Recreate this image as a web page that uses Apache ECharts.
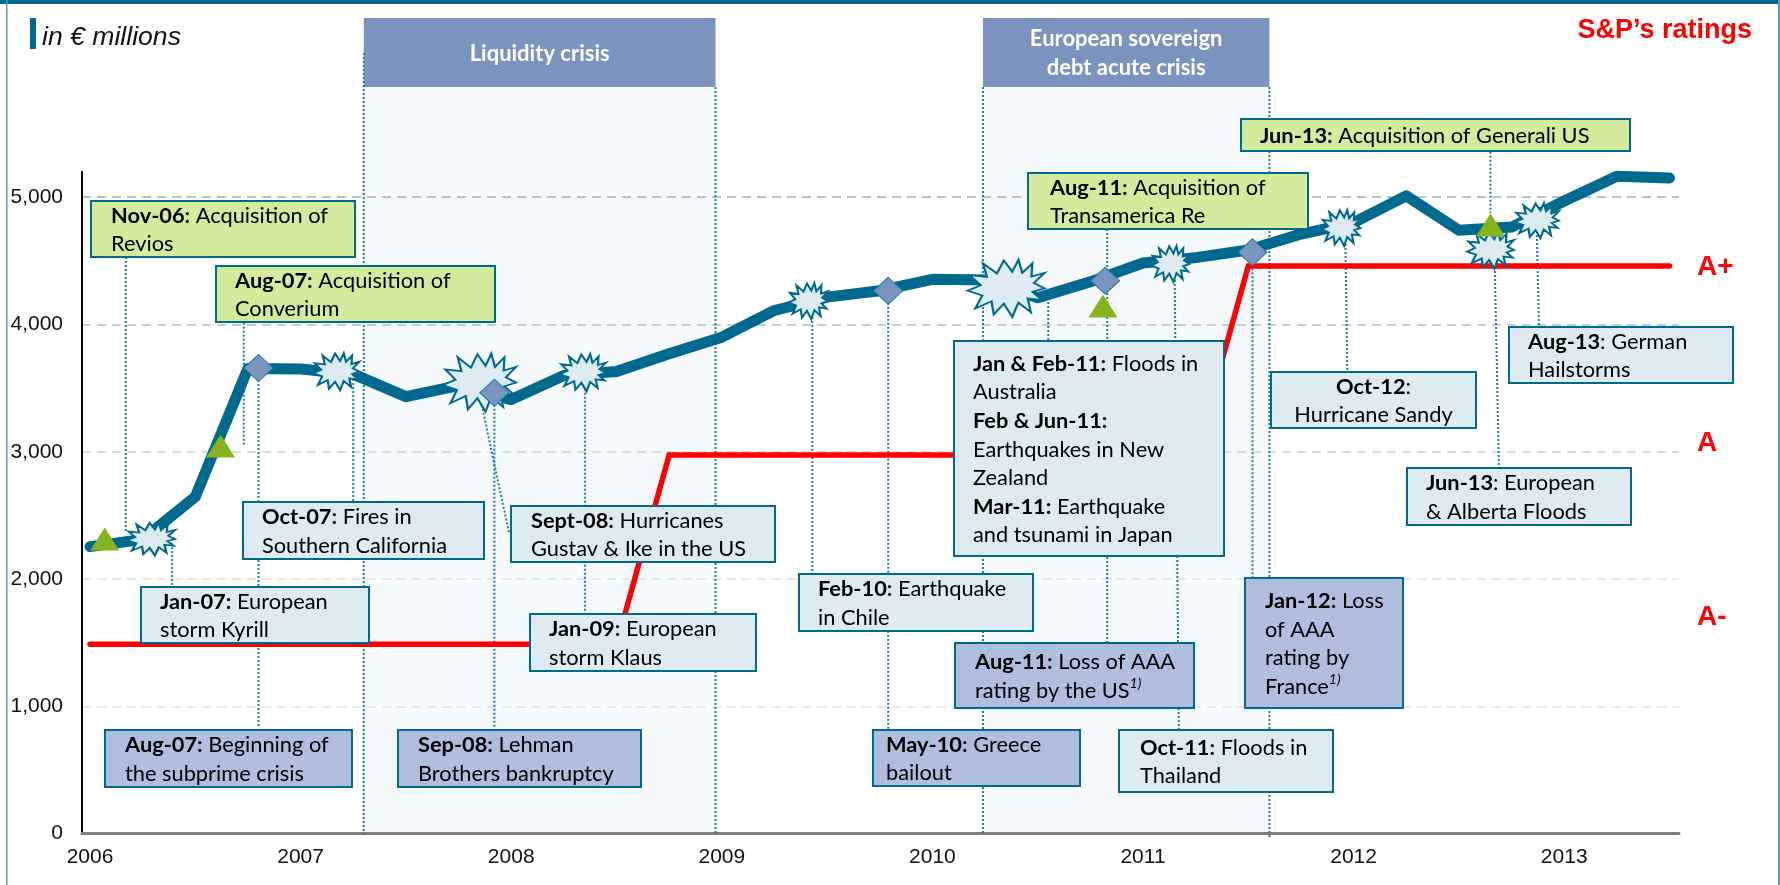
<!DOCTYPE html>
<html><head><meta charset="utf-8"><style>html,body{margin:0;padding:0;background:#fff}#c{width:1780px;height:885px}</style>
<script src="https://cdn.jsdelivr.net/npm/echarts@6/dist/echarts.min.js"></script></head>
<body><div id="c"></div>
<script>
// ---- data ----
const yearLabels = ['2006','2007','2008','2009','2010','2011','2012','2013'];
const quarters = [2006,2006.25,2006.5,2006.75,2007,2007.25,2007.5,2007.75,2008,2008.25,2008.5,2008.75,2009,2009.25,2009.5,2009.75,2010,2010.25,2010.5,2010.75,2011,2011.25,2011.5,2011.75,2012,2012.25,2012.5,2012.75,2013,2013.25,2013.5];
const capital = [2255,2312,2647,3655,3650,3610,3433,3520,3410,3600,3630,3770,3900,4110,4215,4265,4355,4350,4210,4335,4483,4525,4585,4710,4800,5010,4740,4765,4970,5165,5150];
const rating = [1488,1488,1488,1488,1488,1488,1488,1488,1488,1488,1488,2975,2975,2975,2975,2975,2975,2975,2975,2975,2975,2975,4460,4460,4460,4460,4460,4460,4460,4460,4460];
const crisisBands = [[2007.30,2008.97],[2010.24,2011.60]];
const crisisNames = ['Liquidity crisis','European sovereign\ndebt acute crisis'];
const acquisitions = [[2006.07,2315],[2006.62,3045],[2010.81,4145],[2012.65,4781]];
const financialEvents = [[2006.80,3658],[2007.92,3464],[2009.79,4265],[2010.82,4344],[2011.52,4567]];
const catastrophes = [[2006.29,2315],[2007.17,3629],[2007.85,3543],[2008.34,3621],[2009.41,4184],[2010.35,4284],[2011.13,4475],[2011.94,4758],[2012.65,4585],[2012.87,4815]];
const leaders = [
 [2006.17,4530,2006.17,2362],[2006.39,2283,2006.39,1954],[2006.73,4014,2006.73,3053],[2006.80,3658,2006.80,830],
 [2007.25,3635,2007.25,2606],[2007.92,3464,2007.92,830],[2007.86,3367,2007.99,2362],[2008.35,3621,2008.35,1734],
 [2009.43,4184,2009.43,2050],[2009.79,4265,2009.79,815],[2010.55,4208,2010.55,3878],[2010.83,4750,2010.83,1506],
 [2011.15,4475,2011.17,815],[2011.52,4567,2011.52,2016],[2011.96,4758,2011.97,3635],[2012.65,5357,2012.65,4876],
 [2012.67,4483,2012.69,2883],[2012.87,4703,2012.88,3996],
 [2007.30,6132,2007.30,-10],[2008.97,5865,2008.97,-10],[2010.24,5865,2010.24,-10],[2011.60,5865,2011.60,-30]
];
const ratingNames = ['A+','A','A-'];
const captions = [
 '{b|Nov-06:} Acquisition of\nRevios','{b|Aug-07:} Acquisition of\nConverium','{b|Aug-11:} Acquisition of\nTransamerica Re','{b|Jun-13:} Acquisition of Generali US',
 '{b|Oct-07:} Fires in\nSouthern California','{b|Sept-08:} Hurricanes\nGustav & Ike in the US','{b|Jan-07:} European\nstorm Kyrill','{b|Jan-09:} European\nstorm Klaus',
 '{b|Feb-10:} Earthquake\nin Chile','{b|Jan & Feb-11:} Floods in\nAustralia\n{b|Feb & Jun-11:}\nEarthquakes in New\nZealand\n{b|Mar-11:} Earthquake\nand tsunami in Japan',
 '{b|Oct-11:} Floods in\nThailand','{b|Oct-12}:\nHurricane Sandy','{b|Aug-13}: German\nHailstorms','{b|Jun-13}: European\n& Alberta Floods',
 '{b|Aug-07:} Beginning of\nthe subprime crisis','{b|Sep-08:} Lehman\nBrothers bankruptcy','{b|May-10:} Greece\nbailout','{b|Aug-11:} Loss of AAA\nrating by the US{s|1)}','{b|Jan-12:} Loss\nof AAA\nrating by\nFrance{s|1)}'
];

// ---- layout / styling, kept apart from the data ----
const teal='#006A8E', green='#D2EB9C', pale='#DEEAF1', blue='#AFBEDC', head='#7A94BF';
const boxes = [ // left, top, right, bottom, textLeft, fill
 [91,201,355,257,111,green],[216,266,495,322,235,green],[1028,173,1308,229,1050,green],[1241,119,1630,151,1260,green],
 [243,502,484,559,262,pale],[511,506,775,562,531,pale],[141,587,369,643,160,pale],[530,614,756,671,549,pale],
 [799,574,1033,631,818,pale],[954,341,1224,556,973,pale],[1119,730,1333,792,1140,pale],[1271,372,1476,428,null,pale],
 [1509,327,1733,383,1528,pale],[1407,468,1631,525,1426,pale],
 [105,730,352,787,125,blue],[398,730,641,787,418,blue],[873,730,1080,786,886,blue],[955,643,1194,708,975,blue],[1245,578,1403,708,1265,blue]
];
const boxFont = 'Lato';
const boxSize = 21.8;
const rich = {
 b:{fontFamily:boxFont,fontSize:boxSize,fontWeight:'bold',fill:'#000',lineHeight:28.6},
 s:{fontFamily:boxFont,fontSize:14,fontStyle:'italic',fill:'#000',lineHeight:28.6,verticalAlign:'top'}
};
const boxGraphics = boxes.flatMap((b,i)=>{
 const [l,t,r,bt,tl,fill]=b;
 const rect={type:'rect',z:100,shape:{x:l,y:t,width:r-l,height:bt-t},style:{fill,stroke:teal,lineWidth:2}};
 const text={type:'text',z:101,style:{text:captions[i],rich,x:tl==null?(l+r)/2:tl,y:(t+bt)/2+1,align:tl==null?'center':'left',verticalAlign:'middle',
   fontFamily:boxFont,fontSize:boxSize,fill:'#000',lineHeight:28.6,width:r-l}};
 return [rect,text];
});
const staticGraphics = [
 {type:'rect',z:90,shape:{x:0,y:0,width:1780,height:4},style:{fill:teal}},
 {type:'rect',z:90,shape:{x:6,y:0,width:1.5,height:885},style:{fill:'#4E9DB8'}},
 {type:'rect',z:90,shape:{x:1778,y:0,width:2,height:885},style:{fill:'#4E9DB8'}},
 {type:'rect',z:90,shape:{x:30,y:18,width:6,height:31},style:{fill:teal}},
 {type:'text',z:90,style:{text:'in € millions',x:42,y:38,verticalAlign:'middle',fontFamily:'Liberation Sans',fontStyle:'italic',fontSize:26.6,fill:'#111'}},
 {type:'text',z:90,style:{text:"S&P’s ratings",x:1752,y:31,align:'right',verticalAlign:'middle',fontFamily:'Liberation Sans',fontWeight:'bold',fontSize:27,fill:'#FF0000'}},
 ...ratingNames.map((n,i)=>({type:'text',z:90,style:{text:n,x:1697,y:[267,443,617][i],verticalAlign:'middle',fontFamily:'Liberation Sans',fontWeight:'bold',fontSize:28,fill:'#FF0000'}}))
];

const burstPath='path://M58 22L66 2L71 24L84 8L83 30L100 24L86 41L100 50L84 56L97 70L78 67L82 90L66 74L58 98L47 76L34 94L31 72L10 84L19 62L0 54L17 45L3 28L25 31L20 8L38 25L47 3Z';
const burstSizes=[[48,33],[46,37],[73,58],[46,37],[39,36],[77,57],[38,36],[39,36],[47,37],[44,35]];

const chart = echarts.init(document.getElementById('c'),null,{renderer:'canvas'});
chart.setOption({
 animation:false,
 backgroundColor:'#fff',
 grid:{left:82,right:101,top:171.7,bottom:51.3},
 xAxis:{type:'value',min:2005.962,max:2013.545,splitLine:{show:false},
  axisLine:{show:true,onZero:false,lineStyle:{color:'#808080',width:3}},axisTick:{show:false},
  axisLabel:{customValues:yearLabels.map(Number),formatter:v=>String(Math.round(v)),color:'#111',fontFamily:'Liberation Sans',fontSize:21,margin:13}},
 yAxis:{type:'value',min:0,max:5200,interval:1000,
  axisLine:{show:true,lineStyle:{color:'#000',width:2}},axisTick:{show:false},
  axisLabel:{showMaxLabel:false,color:'#111',fontFamily:'Liberation Sans',fontSize:21,margin:19},
  splitLine:{show:true,showMaxLine:false,showMinLine:false,lineStyle:{type:[9,6],width:2,color:['#E4EAF1','#E0E7EF','#D5DFEA','#BDCFE0','#AEC5D9','#8FAFC8','#fff']}}},
 graphic:{elements:[...staticGraphics,...boxGraphics]},
 series:[
  {type:'custom',z:-1,silent:true,clip:false,data:crisisBands,
   renderItem:(p,api)=>{
    const a=api.value(0),b=api.value(1);
    const tl=api.coord([a,6407]),mid=api.coord([b,5865]),bot=api.coord([b,0]);
    const cx=(tl[0]+mid[0])/2;
    const name=crisisNames[p.dataIndex];
    return {type:'group',children:[
     {type:'rect',shape:{x:tl[0],y:mid[1],width:mid[0]-tl[0],height:bot[1]-mid[1]},style:{fill:'#F6FAFC'}},
     {type:'rect',shape:{x:tl[0],y:tl[1],width:mid[0]-tl[0],height:mid[1]-tl[1]},style:{fill:head}},
     {type:'text',style:{text:name,x:cx,y:(tl[1]+mid[1])/2+1,align:'center',verticalAlign:'middle',fontFamily:boxFont,fontWeight:'bold',fontSize:22,lineHeight:29,fill:'#fff'}}
    ]};
   }},
  {type:'custom',z:2,silent:true,clip:false,data:leaders,
   renderItem:(p,api)=>{
    const s=api.coord([api.value(0),api.value(1)]),e=api.coord([api.value(2),api.value(3)]);
    return {type:'line',shape:{x1:s[0],y1:s[1],x2:e[0],y2:e[1]},style:{stroke:'#1A7D9E',lineWidth:2,lineDash:[2,2],fill:null}};
   }},
  {name:'S&P rating',type:'line',z:3,showSymbol:false,silent:true,data:quarters.map((q,i)=>[q,rating[i]]),
   lineStyle:{color:'#FF0000',width:5.5,cap:'round',join:'miter'}},
  {name:'Capital',type:'line',z:4,showSymbol:false,silent:true,data:quarters.map((q,i)=>[q,capital[i]]),
   lineStyle:{color:teal,width:11,cap:'round',join:'round'}},
  {type:'scatter',z:5,silent:true,symbol:burstPath,data:catastrophes.map((d,i)=>({value:d,symbolSize:burstSizes[i]})),
   itemStyle:{color:pale,borderColor:teal,borderWidth:2,opacity:1}},
  {type:'scatter',z:6,silent:true,symbol:'diamond',symbolSize:[29,27],data:financialEvents,
   itemStyle:{color:head,borderColor:'#1A7D9E',borderWidth:1,opacity:1}},
  {type:'scatter',z:7,silent:true,symbol:'triangle',symbolSize:[29,23],data:acquisitions,
   itemStyle:{color:'#84B41E',opacity:1}}
 ]
});
</script></body></html>
